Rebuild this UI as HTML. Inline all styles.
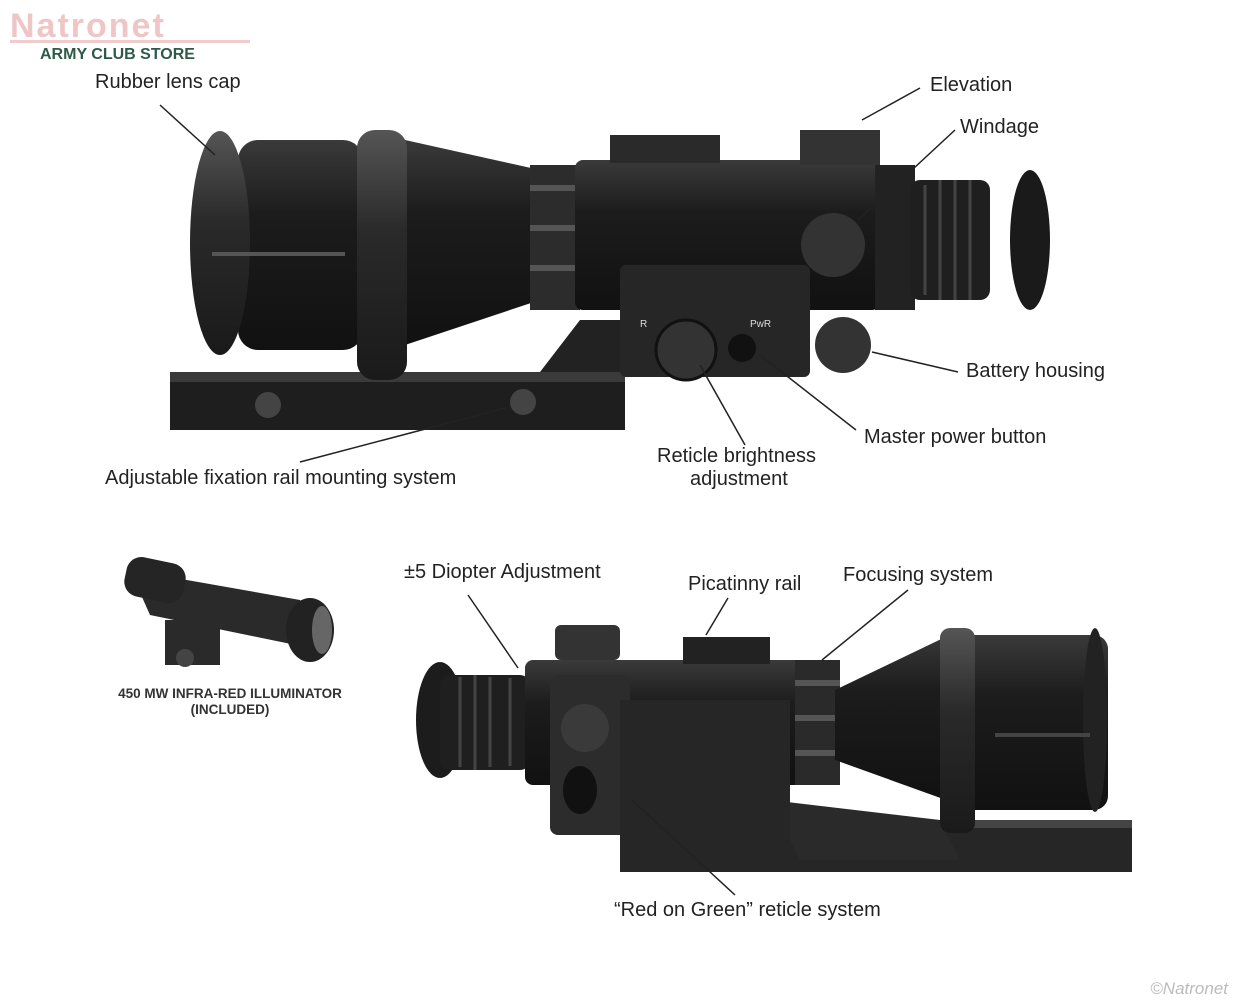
<!DOCTYPE html>
<html><head><meta charset="utf-8"><style>
html,body{margin:0;padding:0;background:#fff}
svg{display:block}
text{font-family:"Liberation Sans",Arial,sans-serif;fill:#222}
</style></head><body>
<svg width="1240" height="1003" viewBox="0 0 1240 1003" xmlns="http://www.w3.org/2000/svg">
<defs>
<linearGradient id="g" x1="0" y1="0" x2="0" y2="1">
<stop offset="0" stop-color="#3a3a3a"/><stop offset="0.35" stop-color="#1c1c1c"/><stop offset="1" stop-color="#111"/></linearGradient>
<linearGradient id="g2" x1="0" y1="0" x2="0" y2="1">
<stop offset="0" stop-color="#555"/><stop offset="0.4" stop-color="#2a2a2a"/><stop offset="1" stop-color="#1a1a1a"/></linearGradient>
</defs>
<rect width="1240" height="1003" fill="#fff"/>
<!-- logo -->
<text x="10" y="37" font-size="34" font-weight="bold" fill="#f0c8c8" style="fill:#efc6c6" letter-spacing="2">Natronet</text>
<rect x="10" y="40" width="240" height="3" fill="#f0cccc"/>
<text x="40" y="59" font-size="16" font-weight="bold" style="fill:#2f5a4a">ARMY CLUB STORE</text>

<!-- TOP SCOPE -->
<rect x="170" y="372" width="455" height="58" fill="#1e1e1e"/>
<rect x="170" y="372" width="455" height="10" fill="#3a3a3a"/>
<path d="M540 372 L580 320 L640 320 L625 372Z" fill="#222"/>
<circle cx="268" cy="405" r="13" fill="#444"/>
<circle cx="523" cy="402" r="13" fill="#444"/>
<rect x="238" y="140" width="125" height="210" rx="20" fill="url(#g)"/>
<ellipse cx="220" cy="243" rx="30" ry="112" fill="url(#g2)"/>
<line x1="212" y1="254" x2="345" y2="254" stroke="#555" stroke-width="4"/>
<path d="M405 140 L540 170 L540 300 L405 345Z" fill="url(#g)"/>
<rect x="357" y="130" width="50" height="250" rx="18" fill="url(#g2)"/>
<rect x="530" y="165" width="50" height="145" fill="#2c2c2c"/>
<rect x="530" y="185" width="50" height="6" fill="#555"/><rect x="530" y="225" width="50" height="6" fill="#555"/><rect x="530" y="265" width="50" height="6" fill="#555"/>
<rect x="575" y="160" width="305" height="150" rx="8" fill="url(#g)"/>
<rect x="610" y="135" width="110" height="28" fill="#2a2a2a"/>
<rect x="620" y="265" width="190" height="112" rx="6" fill="#262626"/>
<circle cx="686" cy="350" r="30" fill="#333" stroke="#111" stroke-width="3"/>
<circle cx="742" cy="348" r="14" fill="#111"/>
<text x="640" y="327" font-size="10" style="fill:#ddd">R</text>
<text x="750" y="327" font-size="10" style="fill:#ddd">PwR</text>
<rect x="800" y="130" width="80" height="35" fill="#333"/>
<circle cx="833" cy="245" r="32" fill="#333"/>
<circle cx="843" cy="345" r="28" fill="#333"/>
<rect x="875" y="165" width="40" height="145" fill="#222"/>
<rect x="910" y="180" width="80" height="120" rx="10" fill="#1f1f1f"/>
<path d="M925 185 v110 M940 180 v120 M955 180 v120 M970 180 v120" stroke="#444" stroke-width="3"/>
<ellipse cx="1030" cy="240" rx="20" ry="70" fill="#1a1a1a"/>

<!-- top labels -->
<g font-size="20">
<text x="95" y="88">Rubber lens cap</text>
<text x="930" y="91">Elevation</text>
<text x="960" y="133">Windage</text>
<text x="966" y="377">Battery housing</text>
<text x="864" y="443">Master power button</text>
<text x="657" y="462">Reticle brightness</text>
<text x="690" y="485">adjustment</text>
<text x="105" y="484">Adjustable fixation rail mounting system</text>
</g>
<g stroke="#222" stroke-width="1.5" fill="none">
<line x1="160" y1="105" x2="215" y2="155"/>
<line x1="920" y1="88" x2="862" y2="120"/>
<line x1="955" y1="130" x2="858" y2="220"/>
<line x1="958" y1="372" x2="872" y2="352"/>
<line x1="856" y1="430" x2="760" y2="355"/>
<line x1="745" y1="445" x2="700" y2="365"/>
<line x1="300" y1="462" x2="505" y2="408"/>
</g>

<!-- illuminator -->
<g>
<path d="M130 570 L300 600 L320 650 L150 615Z" fill="#2a2a2a"/>
<rect x="125" y="560" width="60" height="40" rx="15" fill="#252525" transform="rotate(12 155 580)"/>
<ellipse cx="310" cy="630" rx="24" ry="32" fill="#222"/>
<ellipse cx="322" cy="630" rx="10" ry="24" fill="#666"/>
<rect x="165" y="620" width="55" height="45" fill="#2a2a2a"/>
<circle cx="185" cy="658" r="9" fill="#444"/>
</g>
<text x="230" y="698" font-size="13.5" font-weight="bold" text-anchor="middle" style="fill:#333">450 MW INFRA-RED ILLUMINATOR</text>
<text x="230" y="714" font-size="13.5" font-weight="bold" text-anchor="middle" style="fill:#333">(INCLUDED)</text>

<!-- BOTTOM SCOPE -->
<rect x="620" y="820" width="512" height="52" fill="#262626"/>
<rect x="620" y="820" width="512" height="8" fill="#444"/>
<path d="M770 800 L800 860 L960 860 L940 820Z" fill="#2a2a2a"/>
<ellipse cx="440" cy="720" rx="24" ry="58" fill="#1c1c1c"/>
<rect x="440" y="675" width="90" height="95" rx="10" fill="#1f1f1f"/>
<path d="M460 677 v90 M475 675 v95 M490 677 v90 M510 678 v88" stroke="#444" stroke-width="3"/>
<rect x="525" y="660" width="280" height="125" rx="8" fill="url(#g)"/>
<rect x="550" y="675" width="80" height="160" rx="8" fill="#2c2c2c"/>
<rect x="620" y="700" width="170" height="150" fill="#262626"/>
<circle cx="585" cy="728" r="24" fill="#3a3a3a"/>
<ellipse cx="580" cy="790" rx="17" ry="24" fill="#111"/>
<rect x="555" y="625" width="65" height="35" rx="6" fill="#333"/>
<rect x="683" y="637" width="87" height="27" fill="#222"/>
<rect x="795" y="660" width="45" height="125" fill="#2a2a2a"/>
<rect x="795" y="680" width="45" height="6" fill="#555"/><rect x="795" y="715" width="45" height="6" fill="#555"/><rect x="795" y="750" width="45" height="6" fill="#555"/>
<path d="M835 690 L960 630 L960 805 L835 760Z" fill="url(#g)"/>
<rect x="958" y="635" width="150" height="175" rx="14" fill="url(#g)"/>
<rect x="940" y="628" width="35" height="205" rx="10" fill="url(#g2)"/>
<ellipse cx="1095" cy="720" rx="12" ry="92" fill="#222"/>
<line x1="995" y1="735" x2="1090" y2="735" stroke="#444" stroke-width="4"/>

<g font-size="20">
<text x="404" y="578">±5 Diopter Adjustment</text>
<text x="688" y="590">Picatinny rail</text>
<text x="843" y="581">Focusing system</text>
<text x="614" y="916">“Red on Green” reticle system</text>
</g>
<g stroke="#222" stroke-width="1.5" fill="none">
<line x1="468" y1="595" x2="518" y2="668"/>
<line x1="728" y1="598" x2="706" y2="635"/>
<line x1="908" y1="590" x2="822" y2="660"/>
<line x1="735" y1="895" x2="632" y2="800"/>
</g>
<text x="1228" y="994" font-size="17" font-style="italic" text-anchor="end" style="fill:#bbb">©Natronet</text>
</svg>
</body></html>
